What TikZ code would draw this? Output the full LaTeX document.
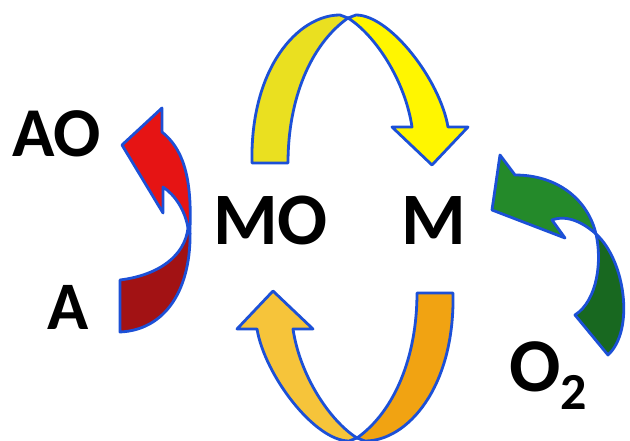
\documentclass[tikz,border=0pt]{standalone}
\usepackage{fontspec}
\setmainfont{Carlito}
\begin{document}
\begin{tikzpicture}[x=1pt,y=-1pt,
  band/.style={draw=outline,line width=2.8pt,line join=round},
  lbl/.style={inner sep=0pt,anchor=base,font=\bfseries}]
\definecolor{outline}{RGB}{28,80,215}
\definecolor{ylwdark}{RGB}{234,224,32}
\definecolor{ylwlight}{RGB}{255,246,0}
\definecolor{orglight}{RGB}{246,196,58}
\definecolor{orgdark}{RGB}{241,163,18}
\definecolor{redlight}{RGB}{230,20,20}
\definecolor{reddark}{RGB}{162,18,20}
\definecolor{grnlight}{RGB}{36,138,42}
\definecolor{grndark}{RGB}{24,104,32}
\useasboundingbox (0,0) rectangle (630,441);
\fill[white] (0,0) rectangle (630,441);

% twisted U-turn ribbon: leg band and arrow band meeting at the crown
\newcommand{\uturn}[2]{%
  \path[band,fill=#1] (252,163) .. controls (250,68) and (298,15) .. (340,15)
     -- (348,18) .. controls (310,45) and (288,100) .. (288,163) -- cycle;
  \path[band,fill=#2] (348,18) -- (356,15) .. controls (390,15) and (440,80) .. (448,127)
     -- (468,127) -- (432,165) -- (392,127) -- (412,127)
     .. controls (405,80) and (375,35) .. (348,18) -- cycle;}

% upper U-turn (yellow)
\uturn{ylwdark}{ylwlight}
% lower U-turn (orange), the same ribbon turned half round
\begin{scope}[rotate around={180:(352.5,228)}]
  \uturn{orgdark}{orglight}
\end{scope}

% red arrow from A to AO
\path[band,fill=reddark] (190,228) .. controls (192,290) and (165,330) .. (120,332)
   -- (120,280) .. controls (160,275) and (185,255) .. (188,228) -- cycle;
\path[band,fill=redlight] (162,108) -- (162,132) .. controls (182,148) and (192,175) .. (190,228)
   -- (188,228) .. controls (185,210) and (175,195) .. (163,187)
   -- (163,213) -- (122,145) -- cycle;

% green arrow from O2 to M
\path[band,fill=grndark] (596,234) .. controls (625,260) and (635,330) .. (608,355)
   -- (575,315) .. controls (598,300) and (602,260) .. (596,234) -- cycle;
\path[band,fill=grnlight] (500,155) -- (515,175) .. controls (558,175) and (588,200) .. (596,234)
   .. controls (585,224) and (568,214) .. (552,220)
   -- (565,238) -- (492,210) -- cycle;

% species
\node[lbl,font=\bfseries\fontsize{70}{70}\selectfont] (ao) at (56.5,157) {AO};
\node[lbl,font=\bfseries\fontsize{68}{68}\selectfont] (a) at (68.5,330) {A};
\node[lbl,font=\bfseries\fontsize{74}{74}\selectfont] (mo) at (270.5,245) {MO};
\node[lbl,font=\bfseries\fontsize{74}{74}\selectfont] (m) at (434,245) {M};
\node[lbl,anchor=base west,font=\bfseries\fontsize{76}{76}\selectfont] (o2) at (509,391)
  {O\raisebox{-18pt}{\fontsize{52}{52}\selectfont 2}};
\end{tikzpicture}
\end{document}
